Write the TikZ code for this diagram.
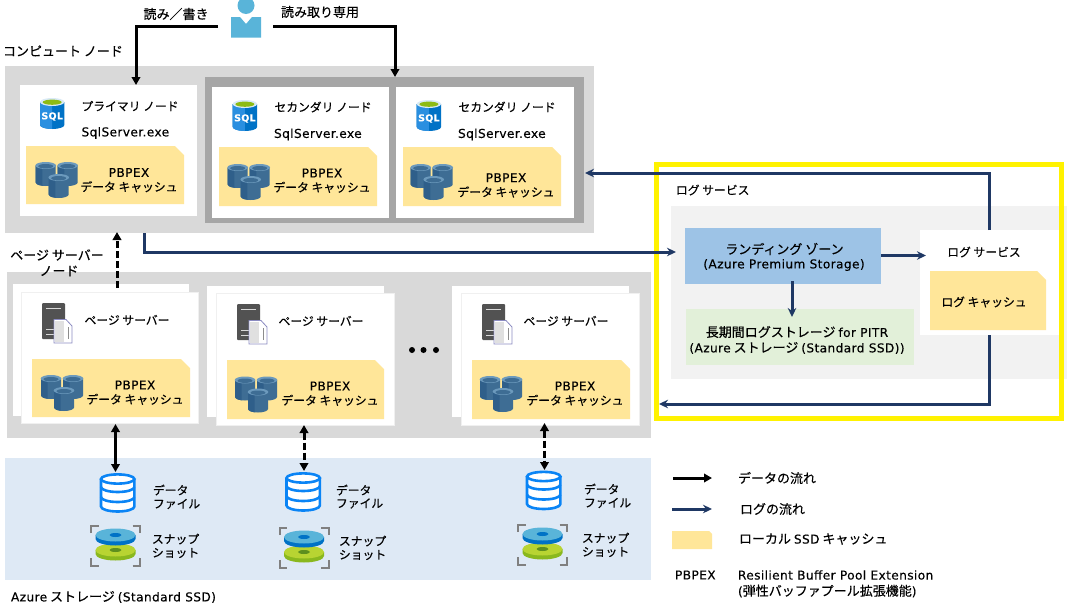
\documentclass[tikz,border=0pt]{standalone}
\usepackage{fontspec}
\setmainfont{Noto Sans CJK JP}[FakeBold=0.3]
\newfontfamily\latfont{DejaVu Sans}[FakeBold=0.2,LetterSpace=3]
\newcommand\lat[1]{{\fontsize{12.2}{13}\latfont #1}}
\usetikzlibrary{arrows.meta}
\definecolor{panelgray}{HTML}{D9D9D9}
\definecolor{framegray}{HTML}{A6A6A6}
\definecolor{cachey}{HTML}{FFE699}
\definecolor{azurebg}{HTML}{DEE9F5}
\definecolor{navy}{HTML}{1F3864}
\definecolor{lzblue}{HTML}{9DC3E6}
\definecolor{ltgreen}{HTML}{E2F0D9}
\definecolor{logbg}{HTML}{F2F2F2}
\definecolor{barrel}{HTML}{3E6D94}
\definecolor{barreld}{HTML}{2F5F8A}
\definecolor{barrelt}{HTML}{6C9ABD}
\definecolor{skyb}{HTML}{59B4D9}
\definecolor{msblue}{HTML}{0072C6}
\definecolor{sqlblue}{HTML}{2A8FE0}
\definecolor{dbblue}{HTML}{0A84F5}
\definecolor{discg}{HTML}{B8D432}
\definecolor{discgd}{HTML}{8AB81E}
\definecolor{discgh}{HTML}{5E8F1E}
\definecolor{sqlg}{HTML}{8DBB14}
\definecolor{logyellow}{HTML}{FFF200}
\tikzset{
  x=1pt,y=-1pt,
  txt/.style={font=\fontsize{11.8}{13}\selectfont,inner sep=0,outer sep=0},
  txtl/.style={font=\fontsize{13}{14}\selectfont,inner sep=0,outer sep=0},
  lbl/.style={txt,anchor=west},
  lbll/.style={txtl,anchor=west},
  dataflow/.style={line width=3pt,black,-{Triangle[length=8pt,width=8.5pt]}},
  databoth/.style={line width=3pt,black,{Triangle[length=8pt,width=8.5pt]}-{Triangle[length=8pt,width=8.5pt]}},
  dashes/.style={dash pattern=on 7pt off 3pt},
  logflow/.style={line width=3pt,navy,-{Stealth[length=9pt,width=8.5pt]}},
  plainbox/.style={anchor=north west,inner sep=0,outer sep=0},
  cards/.style={fill=white,draw=black!6,line width=1pt},
  pics/barrels/.style={code={
    \foreach \bx/\by in {0/0,22/0,13/12}{
      \fill[barrel] (\bx,\by+3) -- (\bx,\by+20) arc[x radius=10,y radius=3.5,start angle=180,end angle=0] -- (\bx+20,\by+3) -- cycle;
      \fill[barreld] (\bx,\by+3) -- (\bx,\by+20) arc[x radius=10,y radius=3.5,start angle=180,end angle=110] -- (\bx+6.6,\by+3) -- cycle;
      \fill[barrelt] (\bx+10,\by+3) ellipse[x radius=10.3,y radius=3.5];
      \fill[barrel] (\bx+10,\by+3.7) ellipse[x radius=7.5,y radius=2.2];
    }}},
  pics/sqlicon/.style={code={
    \fill[msblue] (0,4) -- (0,27) arc[x radius=12.2,y radius=4,start angle=180,end angle=0] -- (24.4,4) -- cycle;
    \fill[sqlblue] (0,4) -- (0,27) arc[x radius=12.2,y radius=4,start angle=180,end angle=90] -- (12.2,4) -- cycle;
    \fill[white!85!msblue] (12.2,4) ellipse[x radius=12.2,y radius=4];
    \fill[sqlg] (12.2,4.2) ellipse[x radius=9.5,y radius=2.6];
    \node[inner sep=0,text=white,font=\fontsize{9.5}{10}\latfont\bfseries] at (12.2,18.5) {SQL};
  }},
  pics/servericon/.style={code={
    \fill[black!68,rounded corners=1pt] (0,0) rectangle (23,36);
    \draw[white!85!black,line width=1pt] (4,5) -- (19,5) (4,26.5) -- (12,26.5) (4,31) -- (12,31);
    \draw[fill=white,draw=blue!30!gray!70,line width=.8pt] (12,16.5) -- (24,16.5) -- (30,23) -- (30,40) -- (12,40) -- cycle;
    \fill[black!12] (13,17.5) rectangle (22,39.4);
    \draw[black!45,line width=.6pt] (26.5,24) -- (26.5,36);
  }},
  pics/dbicon/.style={code={
    \draw[dbblue,fill=white,line width=2.6pt] (1.5,6) -- (1.5,33.5) arc[x radius=16.7,y radius=5,start angle=180,end angle=0] -- (34.9,6);
    \draw[dbblue,fill=white,line width=2.6pt] (18.2,6) ellipse[x radius=16.7,y radius=4.6];
    \draw[dbblue,line width=2.6pt] (1.5,14) arc[x radius=16.7,y radius=5,start angle=180,end angle=0];
    \draw[dbblue,line width=2.6pt] (1.5,24) arc[x radius=16.7,y radius=5,start angle=180,end angle=0];
  }},
  pics/snapicon/.style={code={
    \draw[black!50,line width=2pt] (0.5,8) -- (0.5,1) -- (8,1) (42,1) -- (49.5,1) -- (49.5,8)
      (0.5,33) -- (0.5,40.5) -- (8,40.5) (42,40.5) -- (49.5,40.5) -- (49.5,33);
    \fill[discgd] (5,25) -- (5,29) arc[x radius=20,y radius=6.5,start angle=180,end angle=0] -- (45,25) -- cycle;
    \fill[discg] (25,25) ellipse[x radius=20,y radius=6.5];
    \fill[discgh] (25,25) ellipse[x radius=6,y radius=2];
    \fill[msblue] (5,10) -- (5,14) arc[x radius=20,y radius=6.5,start angle=180,end angle=0] -- (45,10) -- cycle;
    \fill[skyb] (25,10) ellipse[x radius=20,y radius=6.5];
    \fill[msblue] (25,10) ellipse[x radius=6,y radius=2];
  }},
}
\newcommand\areabox[6]{\node[plainbox,minimum width=#4 pt-#2 pt,minimum height=#5 pt-#3 pt,#6] (#1) at (#2,#3) {};}
\newcommand\cachefill[4]{\fill[cachey] (#1,#2) -- (#3-9,#2) -- (#3,#2+9) -- (#3,#4) -- (#1,#4) -- cycle;}
\newcommand\pbpex[3]{%
  \node[txt] (#1a) at (#2,#3) {\lat{PBPEX}};
  \node[txt] (#1b) at (#2,#3+14.3) {データ キャッシュ};}
\begin{document}
\begin{tikzpicture}
\useasboundingbox (0,0) rectangle (1071,608);
\fill[white] (0,0) rectangle (1071,608);
% compute nodes
\areabox{compute}{5}{66}{594}{233}{fill=panelgray}
\areabox{secframe}{205}{77}{584}{223}{fill=framegray}
\areabox{primary}{20}{85}{197}{216}{fill=white}
\areabox{secone}{212}{87}{389}{218}{fill=white}
\areabox{sectwo}{396}{87}{574}{218}{fill=white}
\cachefill{26}{146}{184}{204}
\cachefill{219}{147}{377}{206}
\cachefill{403}{147}{561}{206}
\pic at (40,98) {sqlicon};
\pic at (232.7,100) {sqlicon};
\pic at (416.7,100) {sqlicon};
\node[txt] (lprimary) at (130,106) {プライマリ ノード};
\node[txt] (lsecone) at (323,107) {セカンダリ ノード};
\node[txt] (lsectwo) at (507,107) {セカンダリ ノード};
\node[lbl] (exea) at (81.5,133) {\lat{SqlServer.exe}};
\node[lbl] (exeb) at (274,134.5) {\lat{SqlServer.exe}};
\node[lbl] (exec) at (458,134.5) {\lat{SqlServer.exe}};
\pic at (35.7,162.5) {barrels};
\pic at (227.7,164.5) {barrels};
\pic at (410.7,164.5) {barrels};
\pbpex{pa}{129}{172.5}
\pbpex{pb}{322}{173}
\pbpex{pc}{506}{177.7}
\node[lbll] (lcompute) at (3,51) {コンピュート ノード};
% user
\fill[skyb] (246,5.5) circle[radius=8.5];
\fill[skyb] (231,17) -- (240,17) -- (246,24) -- (252,17) -- (261,17) -- (261,37.5) -- (231,37.5) -- cycle;
\node[inner sep=0,outer sep=0,minimum width=30pt,minimum height=37pt] (user) at (246,19) {};
\node[txtl] (lrw) at (176,14) {読み／書き};
\node[txtl] (lro) at (320,12) {読み取り専用};
\coordinate (userl) at (218,26);
\coordinate (userr) at (273,26);
\coordinate (priin) at (136,85);
\coordinate (secin) at (395,77);
\draw[dataflow] (userl) -| (priin);
\draw[dataflow] (userr) -| (secin);
% page servers
\areabox{pageband}{7}{272}{651}{438}{fill=panelgray}
\areabox{pbacka}{13}{284}{189}{416}{fill=white}
\areabox{pbackb}{207}{286}{384}{417}{fill=white}
\areabox{pbackc}{452}{286}{629}{417}{fill=white}
\areabox{pagea}{21}{292}{198}{423}{cards}
\areabox{pageb}{216}{293}{394}{425}{cards}
\areabox{pagec}{461}{293}{639}{425}{cards}
\cachefill{32}{359}{190}{417}
\cachefill{227}{360}{384}{419}
\cachefill{472}{360}{630}{419}
\pic at (42,303) {servericon};
\pic at (237,304) {servericon};
\pic at (482,304) {servericon};
\node[txt] (lpa) at (127,320) {ページ サーバー};
\node[txt] (lpb) at (321,321) {ページ サーバー};
\node[txt] (lpc) at (566,321) {ページ サーバー};
\pic at (41,375.5) {barrels};
\pic at (235,377) {barrels};
\pic at (480,376.5) {barrels};
\pbpex{qa}{135}{385}
\pbpex{qb}{330}{386}
\pbpex{qc}{575}{386}
\node[txtl] (lpage) at (57,255) {ページ サーバー};
\node[txtl] (lpageb) at (59,271) {ノード};
\foreach \dx in {412,423.5,436}{\fill[black] (\dx,350) circle[radius=3];}
% azure storage
\areabox{azure}{5}{458}{651}{580}{fill=azurebg}
\pic at (99.5,473) {dbicon};
\pic at (285,472) {dbicon};
\pic at (525.5,470.5) {dbicon};
\pic at (90.5,525) {snapicon};
\pic at (279,527) {snapicon};
\pic at (517.5,524) {snapicon};
\node[lbl] (dfa) at (153,490) {データ};
\node[lbl] (dfb) at (153,504) {ファイル};
\node[lbl] (dfc) at (336,490) {データ};
\node[lbl] (dfd) at (336,503.5) {ファイル};
\node[lbl] (dfe) at (584,489) {データ};
\node[lbl] (dff) at (584,503) {ファイル};
\node[lbl] (ssa) at (152,539) {スナップ};
\node[lbl] (ssb) at (152,553) {ショット};
\node[lbl] (ssc) at (339,541) {スナップ};
\node[lbl] (ssd) at (339,555) {ショット};
\node[lbl] (sse) at (582,538) {スナップ};
\node[lbl] (ssf) at (582,552) {ショット};
\node[lbll] (lazure) at (11,597) {\lat{Azure} ストレージ \lat{(Standard SSD)}};
\coordinate (daa) at (115.5,424);
\coordinate (dab) at (115.5,472);
\coordinate (dba) at (304,425);
\coordinate (dbb) at (304,471);
\coordinate (dca) at (544.5,423);
\coordinate (dcb) at (544.5,470);
\draw[databoth] (daa) -- (dab);
\draw[databoth,dashes] (dba) -- (dbb);
\draw[databoth,dashes] (dca) -- (dcb);
\coordinate (upa) at (117,288);
\coordinate (upb) at (117,232);
\draw[dataflow,dashes] (upa) -- (upb);
% log service
\areabox{logbgbox}{671}{206}{1067}{379}{fill=logbg}
\areabox{logcard}{920}{230}{1059}{335}{fill=white}
\areabox{landing}{685}{228}{881}{284}{fill=lzblue}
\areabox{ltr}{686}{309}{914}{365}{fill=ltgreen}
\cachefill{930}{271}{1046}{330}
\draw[logyellow,line width=4.7pt] (656.4,164.4) rectangle (1061.6,418.6);
\node[lbl] (lls) at (676,190) {ログ サービス};
\node[txtl] (llz) at (784.5,249) {ランディング ゾーン};
\node[txtl] (llzb) at (784,265) {\lat{(Azure Premium Storage)}};
\node[txtl] (lltr) at (797,332) {長期間ログストレージ \lat{for PITR}};
\node[txtl] (lltrb) at (797,348) {\lat{(Azure} ストレージ \lat{(Standard SSD))}};
\node[txt] (llog) at (984,252) {ログ サービス};
\node[txt] (lcache) at (984,302) {ログ キャッシュ};
\coordinate (comp) at (144,233);
\coordinate (lzin) at (676,252);
\coordinate (lzo) at (881,255.5);
\coordinate (lgin) at (926,255.5);
\coordinate (lzd) at (792,281);
\coordinate (ltin) at (792,317);
\coordinate (lgup) at (989,230);
\coordinate (cmpin) at (585,173);
\coordinate (lgdn) at (989,335);
\coordinate (lgret) at (659,404);
\draw[logflow] (comp) |- (lzin);
\draw[logflow] (lzo) -- (lgin);
\draw[logflow] (lzd) -- (ltin);
\draw[logflow] (lgup) |- (cmpin);
\draw[logflow] (lgdn) |- (lgret);
% legend
\coordinate (kaa) at (673,478);
\coordinate (kab) at (712,478);
\coordinate (kba) at (672,509);
\coordinate (kbb) at (712,509);
\draw[dataflow] (kaa) -- (kab);
\draw[logflow] (kba) -- (kbb);
\fill[cachey] (672,531) -- (709,531) -- (712,534) -- (712,549) -- (672,549) -- cycle;
\node[lbll] (ka) at (738,478) {データの流れ};
\node[lbll] (kb) at (740,509) {ログの流れ};
\node[lbll] (kc) at (739,539) {ローカル \lat{SSD} キャッシュ};
\node[lbl] (kd) at (675,575) {\lat{PBPEX}};
\node[lbl] (ke) at (738,575) {\lat{Resilient Buffer Pool Extension}};
\node[lbll] (kf) at (738,591) {\lat{(}弾性バッファプール拡張機能\lat{)}};
\end{tikzpicture}
\end{document}
